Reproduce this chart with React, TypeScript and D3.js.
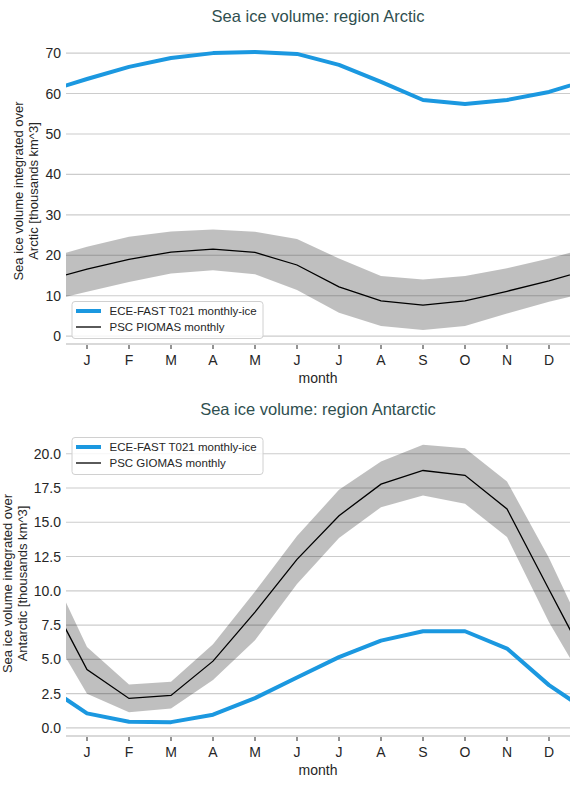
import * as React from 'react';
import * as d3 from 'd3';

// month axis
const monthLabels = ['J', 'F', 'M', 'A', 'M', 'J', 'J', 'A', 'S', 'O', 'N', 'D'];
const monthNums = [1, 2, 3, 4, 5, 6, 7, 8, 9, 10, 11, 12];

// Arctic, thousands km^3
const arcticModel = [63.6, 66.6, 68.8, 70.0, 70.3, 69.8, 67.1, 62.9, 58.4, 57.4, 58.4, 60.4];
const arcticObsMean = [16.6, 19.0, 20.8, 21.5, 20.7, 17.6, 12.2, 8.7, 7.7, 8.7, 11.1, 13.7];
const arcticObsHigh = [22.1, 24.6, 25.9, 26.4, 25.8, 24.0, 19.2, 14.9, 14.0, 14.9, 16.8, 19.2];
const arcticObsLow = [11.0, 13.4, 15.5, 16.3, 15.3, 11.4, 5.8, 2.5, 1.5, 2.5, 5.6, 8.5];
const arcticTicks = [0, 10, 20, 30, 40, 50, 60, 70];

// Antarctic, thousands km^3
const antarcticModel = [1.06, 0.45, 0.42, 0.96, 2.17, 3.68, 5.16, 6.37, 7.05, 7.05, 5.79, 3.12];
const antarcticObsMean = [4.26, 2.15, 2.37, 4.87, 8.45, 12.3, 15.48, 17.78, 18.78, 18.43, 15.98, 10.1];
const antarcticObsHigh = [5.9, 3.17, 3.36, 6.1, 9.95, 14.0, 17.37, 19.43, 20.65, 20.4, 17.98, 12.4];
const antarcticObsLow = [2.5, 1.15, 1.42, 3.5, 6.4, 10.5, 13.85, 16.1, 16.96, 16.35, 13.93, 7.7];
const antarcticTicks = [0, 2.5, 5, 7.5, 10, 12.5, 15, 17.5, 20];

const modelName = 'ECE-FAST T021 monthly-ice';
const FONT = '"Liberation Sans", Arial, sans-serif';
const BLUE = '#1b98e0';

// repeat Dec before Jan and Jan after Dec so the curve runs to the axis edges
function cyclic(vals: number[]) {
    const xs = [0, ...monthNums, 13];
    const ys = [vals[11], ...vals, vals[0]];
    return xs.map((x, i) => ({ x: x, y: ys[i] }));
}

class App extends React.Component<any, any> {
    ref = React.createRef<SVGSVGElement>();

    componentDidMount() {
        this.createChart();
    }

    componentDidUpdate() {
        this.createChart();
    }

    drawPanel(svg: any, p: any) {
        const left = 66, right = 570;
        const x = d3.scaleLinear().domain([0.5, 12.5]).range([left, right]);

        const all = [...p.model, ...p.high, ...p.low, ...p.mean];
        const lo = d3.min(all) as number, hi = d3.max(all) as number;
        const pad = (hi - lo) * 0.05;
        const y = d3.scaleLinear().domain([lo - pad, hi + pad]).range([p.bottom, p.top]);

        svg.append('clipPath')
            .attr('id', p.id)
            .append('rect')
            .attr('x', left)
            .attr('y', p.top)
            .attr('width', right - left)
            .attr('height', p.bottom - p.top);

        svg.append('text')
            .attr('x', (left + right) / 2)
            .attr('y', p.titleY)
            .attr('text-anchor', 'middle')
            .style('font-family', FONT)
            .style('font-size', '16.5px')
            .style('fill', '#2f4f4f')
            .text(p.title);

        // grid
        svg.append('g')
            .selectAll('line')
            .data(p.ticks)
            .enter()
            .append('line')
            .attr('x1', left)
            .attr('x2', right)
            .attr('y1', (d: number) => y(d))
            .attr('y2', (d: number) => y(d))
            .attr('stroke', '#cccccc')
            .attr('stroke-width', 1.1);

        svg.append('g')
            .selectAll('text')
            .data(p.ticks)
            .enter()
            .append('text')
            .attr('x', 61)
            .attr('y', (d: number) => y(d))
            .attr('dy', '0.36em')
            .attr('text-anchor', 'end')
            .style('font-family', FONT)
            .style('font-size', '14px')
            .style('fill', '#262626')
            .text((d: number) => p.fmt(d));

        const g = svg.append('g').attr('clip-path', 'url(#' + p.id + ')');

        const band = cyclic(p.high).map((d, i) => ({ x: d.x, y0: cyclic(p.low)[i].y, y1: d.y }));
        const area = d3.area<any>()
            .x(d => x(d.x))
            .y0(d => y(d.y0))
            .y1(d => y(d.y1));
        g.append('path')
            .attr('d', area(band))
            .attr('fill', '#000')
            .attr('fill-opacity', 0.25);

        const line = d3.line<any>()
            .x(d => x(d.x))
            .y(d => y(d.y));
        g.append('path')
            .attr('d', line(cyclic(p.mean)))
            .attr('fill', 'none')
            .attr('stroke', '#000')
            .attr('stroke-width', 1.3);
        g.append('path')
            .attr('d', line(cyclic(p.model)))
            .attr('fill', 'none')
            .attr('stroke', BLUE)
            .attr('stroke-width', 4)
            .attr('stroke-linejoin', 'round');

        // bottom spine and month ticks
        svg.append('line')
            .attr('x1', left)
            .attr('x2', right)
            .attr('y1', p.bottom)
            .attr('y2', p.bottom)
            .attr('stroke', '#cccccc')
            .attr('stroke-width', 1.5);

        const xt = svg.append('g');
        xt.selectAll('line')
            .data(monthNums)
            .enter()
            .append('line')
            .attr('x1', (d: number) => x(d))
            .attr('x2', (d: number) => x(d))
            .attr('y1', p.bottom + 1)
            .attr('y2', p.bottom + 5)
            .attr('stroke', '#262626')
            .attr('stroke-width', 1);
        xt.selectAll('text')
            .data(monthNums)
            .enter()
            .append('text')
            .attr('x', (d: number) => x(d))
            .attr('y', p.bottom + 20.5)
            .attr('text-anchor', 'middle')
            .style('font-family', FONT)
            .style('font-size', '14px')
            .style('fill', '#262626')
            .text((d: number) => monthLabels[d - 1]);

        svg.append('text')
            .attr('x', (left + right) / 2)
            .attr('y', p.bottom + 39)
            .attr('text-anchor', 'middle')
            .style('font-family', FONT)
            .style('font-size', '14px')
            .style('fill', '#262626')
            .text('month');

        const cy = (p.top + p.bottom) / 2;
        p.ylabel.forEach((t: string, i: number) => {
            svg.append('text')
                .attr('transform', 'translate(' + p.ylabelX[i] + ',' + cy + ') rotate(-90)')
                .attr('text-anchor', 'middle')
                .style('font-family', FONT)
                .style('font-size', '13px')
                .style('fill', '#262626')
                .text(t);
        });

        // legend
        const lg = svg.append('g').attr('transform', 'translate(72,' + p.legendY + ')');
        lg.append('rect')
            .attr('x', 0)
            .attr('y', 0)
            .attr('width', 191)
            .attr('height', 37)
            .attr('rx', 3)
            .attr('fill', '#fff')
            .attr('fill-opacity', 0.8)
            .attr('stroke', '#d0d0d0')
            .attr('stroke-width', 1);
        const entries = [
            { name: modelName, color: BLUE, w: 4 },
            { name: p.obsName, color: '#000', w: 1.3 }
        ];
        entries.forEach((e, i) => {
            const ey = 9.5 + i * 16;
            lg.append('line')
                .attr('x1', 4)
                .attr('x2', 29)
                .attr('y1', ey)
                .attr('y2', ey)
                .attr('stroke', e.color)
                .attr('stroke-width', e.w);
            lg.append('text')
                .attr('x', 37.5)
                .attr('y', ey)
                .attr('dy', '0.36em')
                .style('font-family', FONT)
                .style('font-size', '11.5px')
                .style('fill', '#262626')
                .text(e.name);
        });
    }

    createChart() {
        const svg = d3.select(this.ref.current);
        svg.selectAll('*').remove();

        this.drawPanel(svg, {
            id: 'clip-arctic',
            top: 38, bottom: 344, titleY: 21.8,
            title: 'Sea ice volume: region Arctic',
            ylabel: ['Sea ice volume integrated over', 'Arctic [thousands km^3]'],
            ylabelX: [22.7, 37.7],
            ticks: arcticTicks, fmt: d3.format('d'),
            model: arcticModel, mean: arcticObsMean, high: arcticObsHigh, low: arcticObsLow,
            obsName: 'PSC PIOMAS monthly',
            legendY: 301.5
        });

        this.drawPanel(svg, {
            id: 'clip-antarctic',
            top: 431, bottom: 736, titleY: 415,
            title: 'Sea ice volume: region Antarctic',
            ylabel: ['Sea ice volume integrated over', 'Antarctic [thousands km^3]'],
            ylabelX: [11.5, 26.5],
            ticks: antarcticTicks, fmt: d3.format('.1f'),
            model: antarcticModel, mean: antarcticObsMean, high: antarcticObsHigh, low: antarcticObsLow,
            obsName: 'PSC GIOMAS monthly',
            legendY: 437.5
        });
    }

    render() {
        return (
            <svg
                ref={this.ref}
                width={578}
                height={788}
                style={{ position: 'absolute', left: 0, top: 0, background: '#fff' }}
            />
        );
    }
}

export default App;
